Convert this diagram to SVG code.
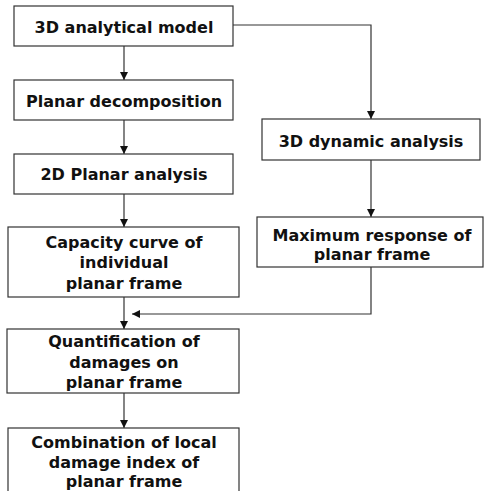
<svg xmlns="http://www.w3.org/2000/svg" width="484" height="491" viewBox="0 0 484 491">
  <style>
    .box { fill: #ffffff; stroke: #333333; stroke-width: 1.2; }
    .lbl { font-family: "DejaVu Sans", Verdana, sans-serif; font-weight: bold; font-size: 16px; fill: #111111; text-anchor: middle; }
    .wire { fill: none; stroke: #333333; stroke-width: 1.2; }
  </style>
  <defs>
    <marker id="head" viewBox="0 0 10 10" refX="10" refY="5" markerWidth="8" markerHeight="8" markerUnits="userSpaceOnUse" orient="auto">
      <path d="M0,0 L10,5 L0,10 z" fill="#111111"/>
    </marker>
  </defs>
  <rect width="484" height="491" fill="#ffffff"/>

  <g id="connectors">
    <line class="wire" x1="124" y1="46" x2="124" y2="80" marker-end="url(#head)"/>
    <line class="wire" x1="124" y1="120" x2="124" y2="154" marker-end="url(#head)"/>
    <line class="wire" x1="124" y1="194" x2="124" y2="227" marker-end="url(#head)"/>
    <line class="wire" x1="124" y1="297" x2="124" y2="329" marker-end="url(#head)"/>
    <line class="wire" x1="124" y1="393" x2="124" y2="428" marker-end="url(#head)"/>
    <polyline class="wire" points="233,25 371,25 371,119" marker-end="url(#head)"/>
    <line class="wire" x1="371" y1="160" x2="371" y2="217" marker-end="url(#head)"/>
    <polyline class="wire" points="371,267 371,314 132,314" marker-end="url(#head)"/>
  </g>

  <g id="model3d">
    <rect class="box" x="14" y="6" width="219" height="40"/>
    <text class="lbl" x="124" y="33">3D analytical model</text>
  </g>
  <g id="decomposition">
    <rect class="box" x="14" y="80" width="219" height="40"/>
    <text class="lbl" x="124" y="107">Planar decomposition</text>
  </g>
  <g id="planar2d">
    <rect class="box" x="14" y="154" width="219" height="40"/>
    <text class="lbl" x="124" y="180">2D Planar analysis</text>
  </g>
  <g id="capacity">
    <rect class="box" x="8" y="227" width="231" height="70"/>
    <text class="lbl" x="124" y="248">Capacity curve of</text>
    <text class="lbl" x="124" y="268">individual</text>
    <text class="lbl" x="124" y="289">planar frame</text>
  </g>
  <g id="quantification">
    <rect class="box" x="7" y="329" width="232" height="64"/>
    <text class="lbl" x="124" y="347">Quantification of</text>
    <text class="lbl" x="124" y="368">damages on</text>
    <text class="lbl" x="124" y="388">planar frame</text>
  </g>
  <g id="combination">
    <rect class="box" x="8" y="428" width="231" height="70"/>
    <text class="lbl" x="124" y="448">Combination of local</text>
    <text class="lbl" x="124" y="468">damage index of</text>
    <text class="lbl" x="124" y="487">planar frame</text>
  </g>
  <g id="dynamic3d">
    <rect class="box" x="262" y="119" width="218" height="41"/>
    <text class="lbl" x="371" y="147">3D dynamic analysis</text>
  </g>
  <g id="maxresponse">
    <rect class="box" x="257" y="217" width="226" height="50"/>
    <text class="lbl" x="372" y="241">Maximum response of</text>
    <text class="lbl" x="372" y="260">planar frame</text>
  </g>
</svg>
